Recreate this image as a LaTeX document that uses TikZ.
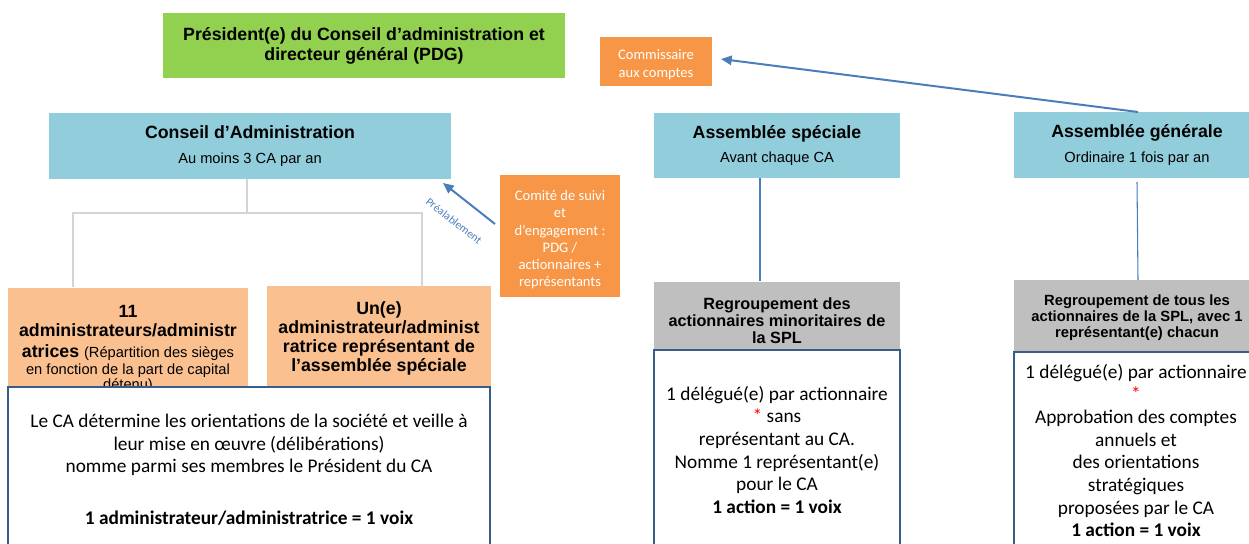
\documentclass[tikz,border=0pt]{standalone}
\usepackage{fontspec}
\setmainfont{Liberation Sans}
\newfontfamily\calib{Carlito}
\usetikzlibrary{arrows.meta,calc}
\definecolor{cgreen}{HTML}{92D050}
\definecolor{cblue}{HTML}{92CDDC}
\definecolor{corange}{HTML}{F79646}
\definecolor{cpeach}{HTML}{FAC090}
\definecolor{cgray}{HTML}{BFBFBF}
\definecolor{cborder}{HTML}{385D8A}
\definecolor{carrow}{HTML}{4A7EBB}
\definecolor{ctree}{HTML}{D4D4D4}
\def\pxl{0.75pt}
\begin{document}
\begin{tikzpicture}[x=0.75pt,y=-0.75pt,
  box/.style={inner sep=0pt, outer sep=0pt, align=center, text=black},
  headfont/.style={font=\fontsize{13.3}{15}\selectfont\bfseries},
  bluebox/.style={box, fill=cblue, headfont},
  orangebox/.style={box, fill=corange, text=white, font=\calib\fontsize{10.9}{12.9}\selectfont},
  peachbox/.style={box, fill=cpeach, font=\fontsize{13.3}{14.25}\selectfont\bfseries},
  graybox/.style={box, fill=cgray},
  whitebox/.style={box, fill=white, draw=cborder, line width=2pt},
  bodytxt/.style={inner sep=0pt, outer sep=0pt, align=center, font=\calib\fontsize{14.5}{17}\selectfont},
  arr/.style={draw=carrow, line width=1.5pt, -{Triangle[length=8pt,width=7pt]}},
  conn/.style={draw=carrow, line width=0.8pt},
  tree/.style={draw=ctree, line width=1pt}
]
\useasboundingbox (0,0) rectangle (1249,543);

% top row
\node[box, fill=cgreen, headfont, minimum width=402*\pxl, minimum height=65*\pxl] (pdg) at (364,45.5)
  {Président(e) du Conseil d’administration et\\directeur général (PDG)};
\node[orangebox, font=\calib\fontsize{10.9}{13.5}\selectfont, minimum width=112*\pxl, minimum height=49*\pxl] (comm) at (656,61.5)
  {\rule{0pt}{12pt}Commissaire\\aux comptes};

% blue boxes
\node[bluebox, minimum width=402*\pxl, minimum height=66*\pxl] (ca) at (250,146)
  {Conseil d’Administration\\[3.5pt]{\mdseries\fontsize{11}{13}\selectfont Au moins 3 CA par an}};
\node[bluebox, minimum width=246*\pxl, minimum height=65*\pxl] (as) at (777,145.5)
  {Assemblée spéciale\\[3.5pt]{\mdseries\fontsize{11}{13}\selectfont Avant chaque CA}};
\node[bluebox, minimum width=246*\pxl, minimum height=66*\pxl] (ag) at (1137,145)
  {Assemblée générale\\[3.5pt]{\mdseries\fontsize{11}{13}\selectfont Ordinaire 1 fois par an}};

% comite
\node[orangebox, minimum width=120*\pxl, minimum height=122*\pxl] (comite) at (560,236)
  {\rule{0pt}{13.4pt}Comité de suivi\\et\\d’engagement :\\PDG /\\actionnaires +\\représentants};

% peach boxes
\node[peachbox, minimum width=240*\pxl, minimum height=116*\pxl] (adm) at (128,346)
  {11\rule{0pt}{14pt}\\administrateurs/administr\\[1.5pt]atrices {\mdseries\fontsize{11}{12}\selectfont (Répartition des sièges}\\[-1.5pt]{\mdseries\fontsize{11}{12}\selectfont en fonction de la part de capital}\\[-3pt]{\mdseries\fontsize{11}{12}\selectfont détenu)}};
\node[peachbox, minimum width=224*\pxl, minimum height=104*\pxl] (un) at (379,338)
  {Un(e)\\administrateur/administ\\ratrice représentant de\\l’assemblée spéciale};

% gray boxes
\node[graybox, font=\fontsize{12.2}{12.75}\selectfont\bfseries, minimum width=246*\pxl, minimum height=68*\pxl] (grp1) at (777,316)
  {\rule{0pt}{16.4pt}Regroupement des\\actionnaires minoritaires de\\la SPL};
\node[graybox, font=\fontsize{11.1}{12}\selectfont\bfseries, minimum width=246*\pxl, minimum height=72*\pxl] (grp2) at (1137,316)
  {\rule{0pt}{11.1pt}Regroupement de tous les\\actionnaires de la SPL, avec 1\\représentant(e) chacun};

% white body boxes
\node[whitebox, minimum width=482*\pxl, minimum height=213*\pxl] (cabody) at (249,493.5) {};
\node[whitebox, minimum width=246*\pxl, minimum height=250*\pxl] (body1) at (777,475) {};
\node[whitebox, minimum width=246*\pxl, minimum height=248*\pxl] (body2) at (1137,476) {};

\node[bodytxt, anchor=north] (cabodyt) at (249,414)
  {Le CA détermine les orientations de la société et veille à\\leur mise en œuvre (délibérations)\\nomme parmi ses membres le Président du CA\\[22pt]\textbf{1 administrateur/administratrice = 1 voix}};
\node[bodytxt, anchor=north] (body1t) at (777,386)
  {1 délégué(e) par actionnaire\\{\color{red}*} sans\\représentant au CA.\\Nomme 1 représentant(e)\\pour le CA\\\textbf{1 action = 1 voix}};
\node[bodytxt, anchor=north] (body2t) at (1136,364)
  {1 délégué(e) par actionnaire\\{\color{red}*}\\Approbation des comptes\\annuels et\\des orientations\\stratégiques\\proposées par le CA\\\textbf{1 action = 1 voix}};

% tree connectors
\coordinate (tl) at (73,287);
\coordinate (tr) at (422,287);
\draw[tree] ($(ca.south)+(-3,0)$) -- ++(0,34) -| (tl);
\draw[tree] ($(ca.south)+(-3,0)$) -- ++(0,34) -| (tr);

% vertical connectors
\draw[conn] ($(as.south)+(-17,0)$) -- ($(grp1.north)+(-17,-1)$);
\draw[conn] ($(ag.south)+(0,4)$) -- ($(grp2.north)+(1,0)$);

% arrows
\draw[arr] ($(comite.west)+(-5,-12)$) -- ($(ca.south east)+(-8,4)$);
\draw[arr] ($(ag.north)+(1,0)$) -- ($(comm.east)+(9,-2.5)$);
\node[font=\calib\fontsize{8.5}{10}\selectfont, text=carrow, rotate=-38, inner sep=0pt] (preal) at (454,221) {Préalablement};
\end{tikzpicture}
\end{document}
